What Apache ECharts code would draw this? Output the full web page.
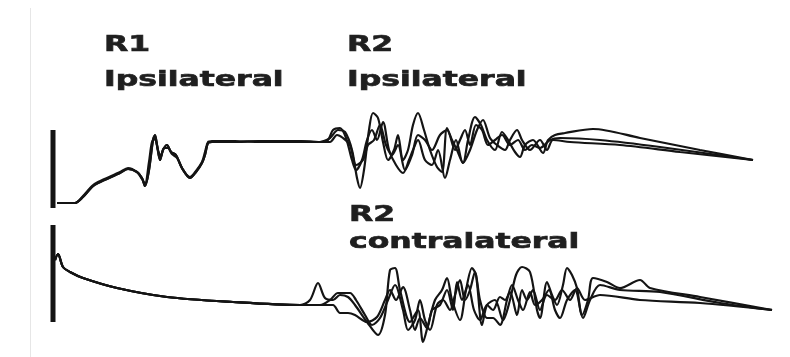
<!DOCTYPE html>
<html>
<head>
<meta charset="utf-8">
<script src="https://cdn.jsdelivr.net/npm/echarts@6/dist/echarts.min.js"></script>
<style>
  html, body { margin: 0; padding: 0; background: #fff; }
  #chart { width: 790px; height: 357px; }
</style>
</head>
<body>
<div id="chart"></div>
<script>
// time in samples after stimulus, amplitude in µV (arbitrary units), [t, v]
const ipsiStim = [[-4, 12], [-4, -66]]
const contraStim = [[-4, 80], [-4, -17]]

// R1 ipsilateral (common part of the superimposed sweeps)
const ipsiR1A = [[0, -61], [18, -61], [26, -55], [35, -45], [41, -41], [63, -31], [71, -27], [80, -30], [85, -36], [88, -44], [92, -28], [96, 2], [98, 7], [100, -3], [103, -18], [106, -8], [110, -3], [114, -10], [119, -13], [125, -26], [133, -36], [139, -30], [145, -21], [148, -13], [151, -1], [155, 0], [178, 0], [203, 1], [243, 1], [263, 0]]
const ipsiR1B = [[0, -61], [18, -61], [26, -54], [35, -44], [41, -40], [63, -30], [71, -26], [80, -30], [85, -37], [88, -42], [92, -20], [95, 0], [98, 3], [101, -8], [104, -14], [107, -6], [111, -6], [115, -12], [120, -16], [126, -28], [133, -35], [139, -29], [145, -20], [148, -10], [151, 0], [155, 1], [178, 1], [203, 0], [243, 0], [263, 0]]

// R2 ipsilateral sweeps
const ipsiR2A = [[273, 4], [281, 12], [288, 10], [295, -8], [300, -36], [303, -46], [307, -28], [312, 12], [316, 29], [321, 24], [326, 0], [331, -18], [337, -8], [341, 7], [346, -18], [351, -8], [356, 17], [361, 29], [367, 12], [373, -8], [380, -25], [385, -30], [390, 14], [395, 2], [400, -8], [406, -21], [411, 2], [418, 25], [424, 17], [430, 2], [438, -8], [445, 10], [451, 2], [458, -10], [463, -15], [468, -3], [476, 2], [486, -11], [491, 2], [498, 7], [508, 9], [536, 13], [583, 4], [643, -8], [696, -18]]
const ipsiR2B = [[271, 2], [276, 12], [283, 14], [289, 4], [295, -18], [299, -28], [305, -18], [310, 2], [315, 12], [320, 2], [326, 20], [332, -8], [339, -23], [346, -31], [352, -18], [356, -8], [361, 2], [368, -18], [375, -23], [381, -8], [388, -36], [393, -18], [399, 2], [406, -21], [413, -8], [420, 12], [426, 22], [433, 4], [440, -3], [448, -8], [453, 2], [460, 12], [465, 2], [473, -8], [483, 2], [490, -8], [496, 2], [513, 0], [563, -3], [623, -10], [696, -18]]
const ipsiR2C = [[273, 0], [280, 7], [286, 4], [293, -3], [299, -23], [306, -18], [311, -3], [317, 2], [323, 17], [329, -3], [335, -13], [341, -3], [348, -28], [355, -13], [361, 7], [368, 2], [375, -8], [383, 7], [390, 12], [398, -8], [403, 2], [408, 12], [413, -3], [419, 17], [425, 12], [431, -3], [438, 2], [445, 7], [453, -3], [461, 2], [468, -8], [475, -3], [483, -6], [493, 2], [503, 4], [543, 2], [603, -5], [696, -18]]

// contralateral: decay after the artifact, then R2 sweeps
const contraDecay = [[-2, 45], [1, 51], [6, 38], [13, 33], [26, 27], [60, 17], [110, 8], [176, 3], [243, 0]]
const contraR2A = [[253, 5], [261, 22], [268, 7], [276, 5], [283, 10], [291, 8], [298, 0], [310, -17], [321, -30], [328, -10], [333, 35], [338, 37], [343, 15], [353, -17], [361, -5], [366, -37], [371, -20], [378, 5], [385, 15], [390, 27], [395, 5], [403, -15], [409, 15], [415, 37], [419, 30], [425, -20], [430, 0], [438, 5], [446, -15], [453, 5], [459, 30], [465, 38], [473, 33], [480, -5], [483, -13], [490, 23], [495, 10], [500, 0], [506, 20], [510, 37], [515, 30], [520, 17], [525, -10], [531, 5], [536, 27], [550, 23], [563, 17], [583, 25], [593, 17], [643, 8], [715, -5]]
const contraR2B = [[263, 0], [276, 0], [283, -8], [291, -8], [298, -10], [310, -17], [320, -12], [328, 5], [333, 15], [339, 5], [346, 18], [353, -5], [358, -25], [363, -13], [370, -23], [375, -5], [383, 0], [390, 15], [396, -5], [400, 23], [405, 5], [411, 20], [417, -5], [423, -15], [430, 0], [436, -5], [443, 8], [448, 5], [453, 13], [460, -10], [465, 15], [470, 5], [476, 15], [483, -5], [490, 10], [498, 5], [505, 15], [513, 5], [520, 17], [528, 5], [543, 10], [583, 5], [643, 2], [715, -5]]
const contraR2C = [[263, 0], [273, 5], [281, 12], [293, 12], [299, 5], [308, -10], [315, -20], [323, -13], [331, 5], [338, 20], [346, -5], [351, -25], [358, -15], [363, 5], [368, -15], [373, -25], [380, 0], [386, 5], [393, -5], [398, 10], [403, 25], [408, 5], [413, 15], [418, 33], [423, 5], [430, -13], [436, -13], [443, -20], [450, 5], [455, 20], [461, 5], [466, -5], [473, 13], [478, 0], [485, 5], [492, 15], [498, -5], [503, -13], [510, 5], [518, 15], [526, -13], [533, 5], [543, 20], [563, 15], [603, 13], [663, 2], [715, -5]]

const labels = [
    { text: 'R1', x: 104, y: 45 },
    { text: 'Ipsilateral', x: 104, y: 80 },
    { text: 'R2', x: 347, y: 45 },
    { text: 'Ipsilateral', x: 347, y: 80 },
    { text: 'R2', x: 349, y: 215 },
    { text: 'contralateral', x: 349, y: 242 },
]

const chart = echarts.init(document.getElementById('chart'), null, { renderer: 'canvas' })

const trace = (data, xi, width = 2.2, smooth = 0.3) => ({
    type: 'line',
    xAxisIndex: xi,
    yAxisIndex: xi,
    data: data,
    symbol: 'none',
    silent: true,
    smooth: smooth,
    lineStyle: { color: '#141414', width: width },
})

const hiddenX = (gi) => ({ type: 'value', gridIndex: gi, min: -7, max: 733, show: false })

chart.setOption({
    animation: false,
    backgroundColor: '#ffffff',
    grid: [
        { left: 50, right: 0, top: 100, height: 120 },
        { left: 50, right: 0, top: 220, height: 130 },
    ],
    xAxis: [hiddenX(0), hiddenX(1)],
    yAxis: [
        { type: 'value', gridIndex: 0, min: -78, max: 42, show: false },
        { type: 'value', gridIndex: 1, min: -45, max: 85, show: false },
    ],
    graphic: [
        {
            type: 'line',
            shape: { x1: 30.5, y1: 8, x2: 30.5, y2: 357 },
            style: { stroke: '#e6e6e6', lineWidth: 1 },
        },
        ...labels.map((l) => ({
            type: 'text',
            x: l.x,
            y: l.y,
            scaleX: 1.43,
            style: {
                text: l.text,
                font: 'bold 22px "DejaVu Sans"',
                fill: '#1f1f1f',
                stroke: '#1f1f1f',
                lineWidth: 0.7,
                verticalAlign: 'middle',
            },
        })),
    ],
    series: [
        trace(ipsiStim, 0, 5, false),
        trace(ipsiR1A.concat(ipsiR2A), 0),
        trace(ipsiR1B.concat(ipsiR2B), 0),
        trace(ipsiR1A.concat(ipsiR2C), 0),
        trace(contraStim, 1, 5, false),
        trace(contraDecay.concat(contraR2A), 1),
        trace(contraDecay.concat(contraR2B), 1),
        trace(contraDecay.concat(contraR2C), 1),
    ],
})
</script>
</body>
</html>
